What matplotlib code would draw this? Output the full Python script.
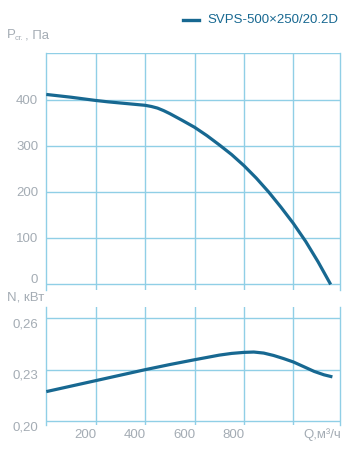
import matplotlib
matplotlib.use("Agg")
import matplotlib.pyplot as plt
import matplotlib.transforms as mtransforms

# ---- data ----
q_p = [0, 50, 100, 150, 200, 250, 300, 350, 400, 425, 450, 475, 500, 550, 600, 650, 700,
       750, 800, 850, 900, 950, 1000, 1050, 1100, 1125, 1151]
p_st = [411, 408, 405, 401.5, 398, 395, 392.5, 390, 387.5, 385, 381.5, 376, 369.5, 355, 340,
        322, 302, 281, 257, 230, 200, 167, 132, 93, 49, 25, 0]

q_n = [0, 100, 200, 300, 400, 500, 600, 700, 750, 800, 840, 880, 920, 960, 1000,
       1043, 1084, 1124, 1158]
n_kw = [0.2172, 0.2204, 0.2236, 0.2268, 0.2300, 0.2330, 0.2358, 0.2385, 0.2395, 0.2401,
        0.2403, 0.2397, 0.2383, 0.2365, 0.2345, 0.2317, 0.2290, 0.2270, 0.2258]

x_ticks = [200, 400, 600, 800, 1000]
x_labels = ["200", "400", "600", "800", ""]
p_ticks = [0, 100, 200, 300, 400, 500]
p_labels = ["0", "100", "200", "300", "400", ""]
n_ticks = [0.20, 0.23, 0.26]
n_labels = ["0,20", "0,23", "0,26"]
series_name = "SVPS-500×250/20.2D"

LINE = "#176891"
GRID = "#90cfe6"
TXT = "#a4acb4"
plt.rcParams['font.family'] = ['Liberation Sans', 'DejaVu Sans']

fig = plt.figure(figsize=(3.55, 4.55), dpi=100)
W, H = 355.0, 455.0

def axes_px(left, top, right, bottom):
    return fig.add_axes([left / W, 1 - bottom / H, (right - left) / W, (bottom - top) / H])

ax1 = axes_px(46.3, 53.3, 340.3, 290)
ax2 = axes_px(46.3, 307, 340.3, 425)

for ax in (ax1, ax2):
    ax.set_xlim(0, 1190)
    for s in ("top", "bottom"):
        ax.spines[s].set_visible(False)
    for s in ("left", "right"):
        ax.spines[s].set_color(GRID)
        ax.spines[s].set_linewidth(1.0)
    ax.set_xticks(x_ticks)
    ax.tick_params(length=0, labelbottom=False, labelleft=False)
    ax.grid(True, color=GRID, linewidth=1.0)
    ax.set_axisbelow(True)

ax1.set_ylim(-12, 500)
ax1.set_yticks(p_ticks)
ax2.set_ylim(0.1977, 0.2666)
ax2.set_yticks(n_ticks)

ax1.plot(q_p, p_st, color=LINE, linewidth=2.3, solid_capstyle='butt',
         solid_joinstyle='round', zorder=3)
ax2.plot(q_n, n_kw, color=LINE, linewidth=2.3, solid_capstyle='butt',
         solid_joinstyle='round', zorder=3)

fs = 9.5
# y tick labels
for ax, ticks, labels, dy in ((ax1, p_ticks, p_labels, None), (ax2, n_ticks, n_labels, -6)):
    tr = mtransforms.blended_transform_factory(ax.transAxes, ax.transData)
    for t, lab in zip(ticks, labels):
        off = dy if dy is not None else (4 if t == 0 else -1)
        tt = tr + mtransforms.ScaledTranslation(-8 / 100, off / 100, fig.dpi_scale_trans)
        ax.text(0, t, lab, transform=tt, ha='right', va='center', color=TXT, fontsize=fs)

# x tick labels
trx = mtransforms.blended_transform_factory(ax2.transData, ax2.transAxes)
for t, lab in zip(x_ticks, x_labels):
    tt = trx + mtransforms.ScaledTranslation(1 / 100, -10 / 100, fig.dpi_scale_trans)
    ax2.text(t, 0, lab, transform=tt, ha='right', va='center', color=TXT, fontsize=fs)
fig.text(341 / W, 1 - 435 / H, "Q,м³/ч", ha='right', va='center', color=TXT, fontsize=fs)

# axis titles
fig.text(7 / W, 1 - 35 / H, "P", ha='left', va='center', color=TXT, fontsize=fs)
fig.text(14.5 / W, 1 - 38 / H, "ст.", ha='left', va='center', color=TXT, fontsize=5.5)
fig.text(24.5 / W, 1 - 35 / H, ", Па", ha='left', va='center', color=TXT, fontsize=fs)
fig.text(7 / W, 1 - 297 / H, "N, кВт", ha='left', va='center', color=TXT, fontsize=fs)

# legend
fig.add_artist(plt.Line2D([183 / W, 199 / W], [1 - 20 / H, 1 - 20 / H], color=LINE, linewidth=2.4))
fig.text(207 / W, 1 - 20 / H, series_name, ha='left', va='center', color=LINE, fontsize=fs)

fig.savefig("out.png", dpi=100)
